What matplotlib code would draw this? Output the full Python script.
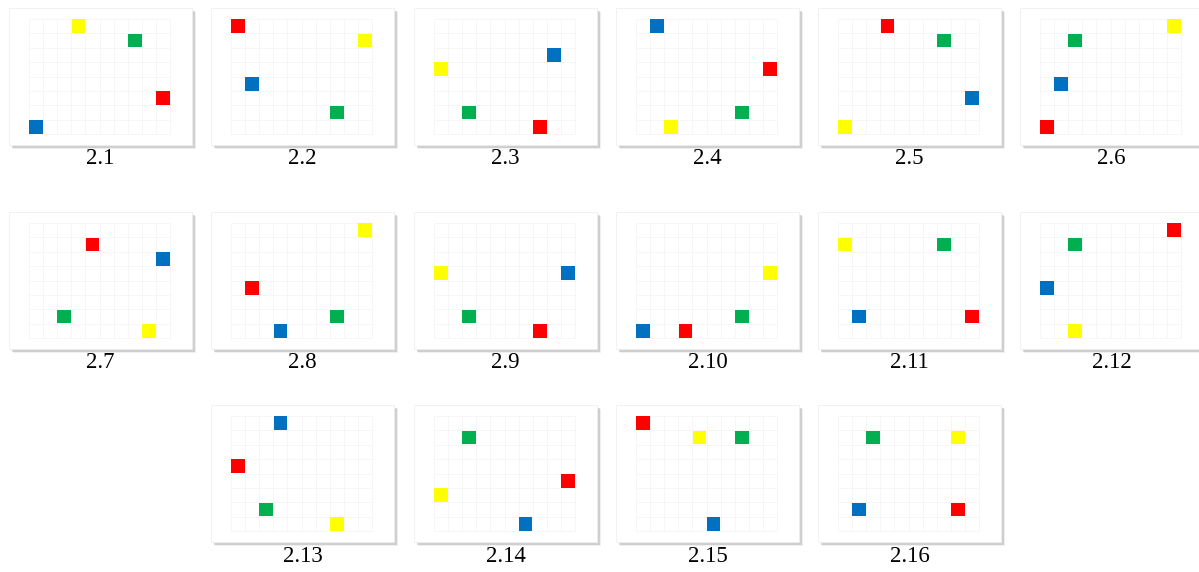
import matplotlib
matplotlib.use("Agg")
import matplotlib.pyplot as plt
import matplotlib.patheffects as pe
from matplotlib.patches import Rectangle

# panel labels
labels = ["2.1", "2.2", "2.3", "2.4", "2.5", "2.6",
          "2.7", "2.8", "2.9", "2.10", "2.11", "2.12",
          "2.13", "2.14", "2.15", "2.16"]

# grid cell (column from left, row from top) of each coloured square, per panel
red_col = [9, 0, 7, 9, 3, 0, 4, 1, 7, 3, 9, 9, 0, 9, 0, 8]
red_row = [5, 0, 7, 3, 0, 7, 1, 4, 7, 7, 6, 0, 3, 4, 0, 6]
yellow_col = [3, 9, 0, 2, 0, 9, 8, 9, 0, 9, 0, 2, 7, 0, 4, 8]
yellow_row = [0, 1, 3, 7, 7, 0, 7, 0, 3, 3, 1, 7, 7, 5, 1, 1]
green_col = [7, 7, 2, 7, 7, 2, 2, 7, 2, 7, 7, 2, 2, 2, 7, 2]
green_row = [1, 6, 6, 6, 1, 1, 6, 6, 6, 6, 1, 1, 6, 1, 1, 1]
blue_col = [0, 1, 8, 1, 9, 1, 9, 3, 9, 0, 1, 0, 3, 6, 5, 1]
blue_row = [7, 4, 2, 0, 5, 4, 2, 7, 3, 7, 6, 4, 0, 7, 7, 6]

n_cols, n_rows = 10, 8

W, H = 1199, 572
fig = plt.figure(figsize=(W / 100, H / 100), dpi=100)
fig.patch.set_facecolor("white")

card_w, card_h = 183, 137
lefts = [9, 211, 414, 616, 818, 1020]
tops = [8, 212, 405]
slots = [(r, c) for r in range(2) for c in range(6)] + [(2, c) for c in range(1, 5)]

series = [(red_col, red_row, "#FF0000"),
          (yellow_col, yellow_row, "#FFFF00"),
          (green_col, green_row, "#00B050"),
          (blue_col, blue_row, "#0070C0")]

for i, lab in enumerate(labels):
    r, c = slots[i]
    x0, y0 = lefts[c], tops[r]
    # card with soft drop shadow, drawn under the axes
    card = Rectangle((x0 / W, 1 - (y0 + card_h) / H), card_w / W, card_h / H,
                     transform=fig.transFigure, facecolor="white", edgecolor="#f0f0f0",
                     lw=0.6, zorder=-5)
    card.set_path_effects([
        pe.SimplePatchShadow(offset=(3, -3), shadow_rgbFace="#999999", alpha=0.15),
        pe.SimplePatchShadow(offset=(2, -2), shadow_rgbFace="#888888", alpha=0.3),
        pe.SimplePatchShadow(offset=(1, -1), shadow_rgbFace="#888888", alpha=0.35),
        pe.Normal()])
    fig.patches.append(card)

    ax = fig.add_axes([x0 / W, 1 - (y0 + card_h) / H, card_w / W, card_h / H])
    ax.set_facecolor("none")
    ax.set_xlim(-20 / 14.1, n_cols + 22 / 14.1)
    ax.set_ylim(n_rows + 11 / 14.4, -11 / 14.4)
    for s in ax.spines.values():
        s.set_visible(False)
    ax.set_xticks([])
    ax.set_yticks([])

    ax.vlines(range(n_cols + 1), 0, n_rows, color="#f6f6f6", lw=0.7, zorder=1)
    ax.hlines(range(n_rows + 1), 0, n_cols, color="#f6f6f6", lw=0.7, zorder=1)

    for cols, rows, color in series:
        ax.add_patch(Rectangle((cols[i] + 0.02, rows[i] + 0.02), 0.96, 0.96,
                               facecolor=color, edgecolor="none", zorder=3))

    fig.text((x0 + card_w / 2) / W, 1 - (y0 + card_h + 14) / H, lab,
             ha="center", va="center", fontsize=16.5, family="Liberation Serif")

fig.savefig("out.png", dpi=100)
